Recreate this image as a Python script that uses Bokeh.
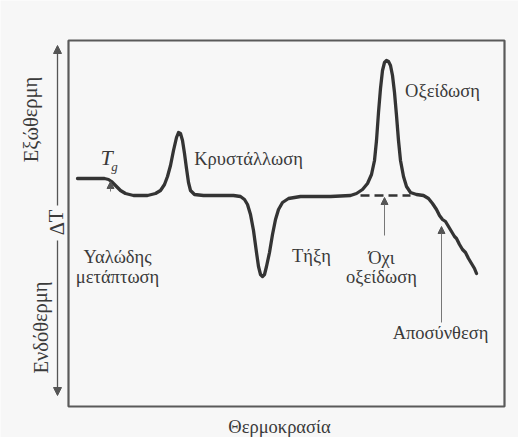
from bokeh.plotting import figure
from bokeh.models import Range1d, Arrow, NormalHead
from bokeh.core.properties import value
from bokeh.embed import file_html
from bokeh.resources import INLINE

# Schematic DTA curve (arbitrary units): temperature vs ΔT
temperature = [9, 22, 36, 40, 43, 47, 52, 57, 65, 79, 87, 92, 96, 99, 102, 105, 108, 110, 112, 114,
               116, 118, 120, 122, 126, 135, 165, 172, 176, 179, 182, 185, 188, 190, 192, 194, 196,
               198, 201, 204, 207, 210, 214, 220, 232, 262, 282, 288, 294, 299, 303, 306, 308, 310,
               312, 314, 316, 318, 320, 322, 324, 326, 328, 330, 332, 335, 338, 342, 348, 355, 360,
               364, 368, 371, 374, 377, 380, 383, 386, 388, 391, 394, 397, 400, 403, 406, 408]
delta_t = [17, 17, 17, 16, 14, 10, 5, 2, 0, 0, 2, 5, 11, 19, 30, 45, 58, 63, 62, 55,
           42, 27, 13, 5, 1, 0, 0, -1, -4, -9, -19, -35, -57, -71, -79, -81, -79,
           -71, -57, -39, -24, -14, -7, -3, -1, -1, 0, 2, 6, 12, 21, 35, 55, 83,
           107, 125, 133, 135, 134, 130, 120, 103, 80, 55, 35, 19, 9, 3, 1, 0, -3,
           -8, -14, -20, -24, -26, -31, -36, -41, -43, -49, -54, -57, -63, -68, -73, -78]

# extrapolated baseline under the oxidation peak
baseline_t = [292, 342]
baseline_d = [0, 0]

# frame of the diagram
box_t = [0, 436]
box_d = [-211, 155]

# annotation labels
label_text = ["Κρυστάλλωση", "Οξείδωση", "Υαλώδης", "μετάπτωση", "Τήξη", "Όχι", "οξείδωση",
              "Αποσύνθεση", "Θερμοκρασία"]
label_t = [180, 374, 49, 49, 243, 313, 313, 372, 211]
label_d = [37, 105, -61, -81, -60, -62, -81, -137, -231]

side_text = ["Εξώθερμη", "ΔT", "Ενδόθερμη"]
side_t = [-38, -12, -28]
side_d = [76, -27, -132]

# pointer arrows: (t, d_start, d_end)
pointer_t = [316, 373, 42]
pointer_d0 = [-40, -127, 4]
pointer_d1 = [-2, -31, 14]

# ΔT axis arrows
axis_t = -11
axis_up = [-10, 150]
axis_down = [-45, -200]

INK = "#343434"
TEXT = "#3a3a3a"
FONT = value("Liberation Serif")

p = figure(width=518, height=437, x_range=Range1d(-68, 450), y_range=Range1d(-242, 195),
           x_axis_type=None, y_axis_type=None, output_backend="svg", toolbar_location=None,
           min_border=0)
p.grid.visible = False
p.outline_line_color = None
p.background_fill_color = "#f7f7f7"
p.border_fill_color = "#f7f7f7"

p.quad(left=[box_t[0]], right=[box_t[1]], bottom=[box_d[0]], top=[box_d[1]],
       fill_color=None, line_color="#5a5a5a", line_width=2.2)

p.line(temperature, delta_t, line_color=INK, line_width=3.3, line_join="round", line_cap="round")
p.line(baseline_t, baseline_d, line_color=INK, line_width=2.5, line_dash="9 5")

p.text(x=label_t, y=label_d, text=label_text, text_font=FONT, text_font_size="18.5px",
       text_align="center", text_baseline="middle", text_color=TEXT)
p.text(x=side_t, y=side_d, text=side_text, text_font=FONT, text_font_size="20.5px",
       text_align="center", text_baseline="middle", text_color=TEXT, angle=1.5708)
p.text(x=[38], y=[38], text=["T"], text_font=FONT, text_font_size="22px", text_font_style="italic",
       text_align="center", text_baseline="middle", text_color=TEXT)
p.text(x=[46], y=[29], text=["g"], text_font=FONT, text_font_size="13px", text_font_style="italic",
       text_align="center", text_baseline="middle", text_color=TEXT)

for t, d0, d1 in zip(pointer_t, pointer_d0, pointer_d1):
    p.add_layout(Arrow(end=NormalHead(size=7, fill_color="#555555", line_color="#555555"),
                       x_start=t, y_start=d0, x_end=t, y_end=d1,
                       line_color="#777777", line_width=1))

p.add_layout(Arrow(end=NormalHead(size=8, fill_color="#555555", line_color="#555555"),
                   x_start=axis_t, y_start=axis_up[0], x_end=axis_t, y_end=axis_up[1],
                   line_color="#555555", line_width=1.3))
p.add_layout(Arrow(end=NormalHead(size=8, fill_color="#555555", line_color="#555555"),
                   x_start=axis_t, y_start=axis_down[0], x_end=axis_t, y_end=axis_down[1],
                   line_color="#555555", line_width=1.3))

open("out.html", "w").write(file_html(p, INLINE))
